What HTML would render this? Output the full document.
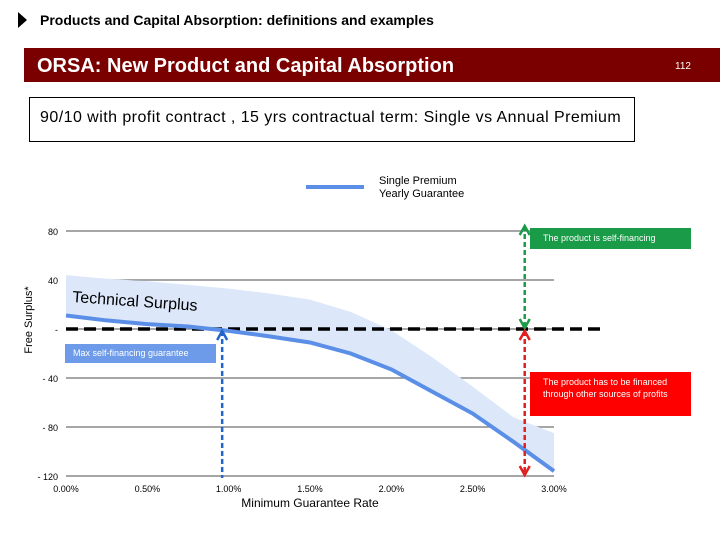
<!DOCTYPE html>
<html><head><meta charset="utf-8"><style>
body{margin:0;width:720px;height:540px;background:#fff;font-family:"Liberation Sans",sans-serif;overflow:hidden;position:relative}
.abs{position:absolute;white-space:nowrap}
</style></head><body>
<div class="abs" style="left:18px;top:12px;width:0;height:0;border-left:9px solid #000;border-top:8px solid transparent;border-bottom:8px solid transparent"></div>
<div class="abs" style="left:40px;top:12px;font-size:14px;font-weight:bold;color:#000">Products and Capital Absorption: definitions and examples</div>
<div class="abs" style="left:24px;top:48px;width:696px;height:34px;background:#7a0000"></div>
<div class="abs" style="left:37px;top:55px;font-size:20px;font-weight:bold;color:#fff">ORSA: New Product and Capital Absorption</div>
<div class="abs" style="left:675px;top:61px;font-size:10px;color:#fff">112</div>
<div class="abs" style="left:29px;top:97px;width:606px;height:45px;border:1px solid #000;box-sizing:border-box"></div>
<div class="abs" style="left:40px;top:109px;font-size:16px;letter-spacing:0.45px;color:#000">90/10 with profit contract , 15 yrs contractual term: Single vs Annual Premium</div>
<svg class="abs" style="left:0;top:0" width="720" height="540" id="chart"></svg>
<script>
const categories=[0,0.25,0.5,0.75,1.0,1.25,1.5,1.75,2.0,2.25,2.5,2.75,3.0];
const singlePremium=[11,7,4,2,-1.5,-6,-11,-20,-33,-51,-69,-92,-116];
const bandUpper=[44,41,39,36,33,29,24,14,-1,-23,-47,-72,-85];
const yTicks=[80,40,0,-40,-80,-120];
const yTickLabels=["80","40","-","- 40","- 80","- 120"];
const xTicks=["0.00%","0.50%","1.00%","1.50%","2.00%","2.50%","3.00%"];
const breakEven=2.82, maxGuarantee=0.96;
const NS="http://www.w3.org/2000/svg";
const svg=document.getElementById('chart');
const X=v=>66+(v/3)*488;
const Y=v=>329-v*1.225;
function mk(t,a){const e=document.createElementNS(NS,t);for(const k in a)e.setAttribute(k,a[k]);svg.appendChild(e);return e;}
yTicks.forEach((t,i)=>{
 const g=mk('line',{x1:66,x2:554,y1:Y(t),y2:Y(t),stroke:'#888','stroke-width':1.5});
 
 const l=mk('text',{x:58,y:Y(t)+4,'text-anchor':'end','font-size':9,fill:'#000'});l.textContent=yTickLabels[i];
 
});
xTicks.forEach((t,i)=>{
 const l=mk('text',{x:X(i*0.5),y:492,'text-anchor':'middle','font-size':9,fill:'#000'});l.textContent=t;
 
});
let d='M'+categories.map((c,i)=>X(c)+','+Y(bandUpper[i])).join('L');
for(let i=categories.length-1;i>=0;i--)d+='L'+X(categories[i])+','+Y(singlePremium[i]);
const band=mk('path',{d:d+'Z',fill:'#dce8fa'});

const zl=mk('line',{x1:66,x2:600,y1:Y(0),y2:Y(0),stroke:'#000','stroke-width':3.5,'stroke-dasharray':'12,6'});

const ln=mk('polyline',{points:categories.map((c,i)=>X(c)+','+Y(singlePremium[i])).join(' '),fill:'none',stroke:'#5b8ee6','stroke-width':4});

function arrow(x,y1,y2,col,name,h1,h2){
 const a=mk('line',{x1:x,x2:x,y1:y1,y2:y2,stroke:col,'stroke-width':2.5,'stroke-dasharray':'5,3'});
 
 if(h1)mk('path',{d:`M${x-5},${y1+9}L${x},${y1}L${x+5},${y1+9}`,fill:'none',stroke:col,'stroke-width':2.5});
 if(h2)mk('path',{d:`M${x-5},${y2-9}L${x},${y2}L${x+5},${y2-9}`,fill:'none',stroke:col,'stroke-width':2.5});
}
arrow(X(breakEven),226,Y(0)-1,'#1a9b48','self-financing-arrow',true,true);
arrow(X(breakEven),Y(0)+2,475,'#e02020','financing-needed-arrow',true,true);
arrow(X(maxGuarantee),Y(0)+2,478,'#2266cc','max-guarantee-arrow',true,false);
const ts=mk('text',{x:72,y:302,'font-size':16,fill:'#000',transform:'rotate(4 72 302)'});ts.textContent='Technical Surplus';

const yt=mk('text',{x:0,y:0,'font-size':11,fill:'#000','text-anchor':'middle',transform:'translate(32,320) rotate(-90)'});yt.textContent='Free Surplus*';

const xt=mk('text',{x:310,y:507,'font-size':12,fill:'#000','text-anchor':'middle'});xt.textContent='Minimum Guarantee Rate';

const lg=mk('line',{x1:306,x2:364,y1:187,y2:187,stroke:'#5b8ee6','stroke-width':4});

const l1=mk('text',{x:379,y:184,'font-size':11,fill:'#000'});l1.textContent='Single Premium';

const l2=mk('text',{x:379,y:197,'font-size':11,fill:'#000'});l2.textContent='Yearly Guarantee';

</script>
<div class="abs" style="left:530px;top:228px;width:161px;height:21px;background:#1a9b48;color:#fff;font-size:9px;line-height:21px;text-indent:13px">The product is self-financing</div>
<div class="abs" style="left:530px;top:372px;width:161px;height:44px;background:#f00;color:#fff;font-size:9px;line-height:12px;padding:4px 0 0 13px;box-sizing:border-box;white-space:normal">The product has to be financed through other sources of profits</div>
<div class="abs" style="left:65px;top:344px;width:151px;height:19px;background:#6d9bea;color:#fff;font-size:9px;line-height:19px;text-indent:8px">Max self-financing guarantee</div>
</body></html>
